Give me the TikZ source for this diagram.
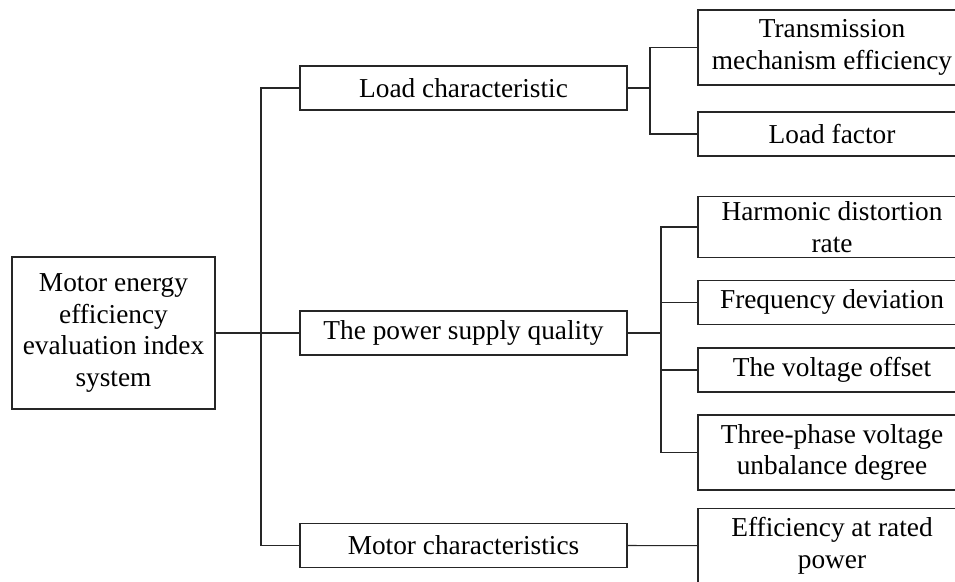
\documentclass[tikz,border=0pt]{standalone}
\usepackage{fontspec}
\setmainfont{Liberation Serif}
\begin{document}
\begin{tikzpicture}[x=0.75pt,y=-0.75pt,
  box/.style={draw=black!85,line width=0.8pt,align=center,inner sep=0pt,
    font=\fontsize{20.5}{23.8}\selectfont},
  rootbox/.style={box,minimum width=152.25pt,minimum height=114pt},
  midbox/.style={box,minimum width=245.25pt,minimum height=33pt},
  leafbox/.style={box,minimum width=201pt},
  link/.style={draw=black!85,line width=0.8pt}]
\useasboundingbox (0,0) rectangle (955,581);
\clip (0,0) rectangle (955,581);
\fill[white] (0,0) rectangle (955,581);
\node[rootbox] (root) at (113.5,333) {Motor energy\\efficiency\\evaluation index\\system};
\node[midbox] (L) at (463.5,88) {Load characteristic};
\node[midbox] (P) at (463.5,333) {The power supply quality};
\node[midbox] (M) at (463.5,545.5) {Motor characteristics};
\node[leafbox,minimum height=56.25pt] (T) at (832,47.5) {Transmission\\mechanism efficiency};
\node[leafbox,minimum height=33pt] (LF) at (832,134) {Load factor};
\node[leafbox,minimum height=45.5pt] (H) at (832,227) {Harmonic distortion\\rate};
\node[leafbox,minimum height=33pt] (F) at (832,302.3) {Frequency deviation};
\node[leafbox,minimum height=33pt] (V) at (832,370) {The voltage offset};
\node[leafbox,minimum height=56.25pt] (Th) at (832,452.5) {Three-phase voltage\\unbalance degree};
\node[leafbox,minimum height=56pt] (E) at (832,545.7) {Efficiency at rated\\power};
\coordinate (tr) at (261,333);
\coordinate (lj) at (650,88);
\coordinate (pj) at (661,333);
\draw[link] (root.east) -- (P.west);
\draw[link] (L.west) -| (tr) |- (M.west);
\draw[link] (L.east) -- (lj);
\draw[link] (T.west) -| (lj) |- (LF.west);
\draw[link] (P.east) -- (pj);
\draw[link] (H.west) -| (pj) |- (Th.west);
\draw[link] (F.west) -- (F.west -| pj);
\draw[link] (V.west) -- (V.west -| pj);
\draw[link] (M.east) -- (E.west);
\end{tikzpicture}
\end{document}
